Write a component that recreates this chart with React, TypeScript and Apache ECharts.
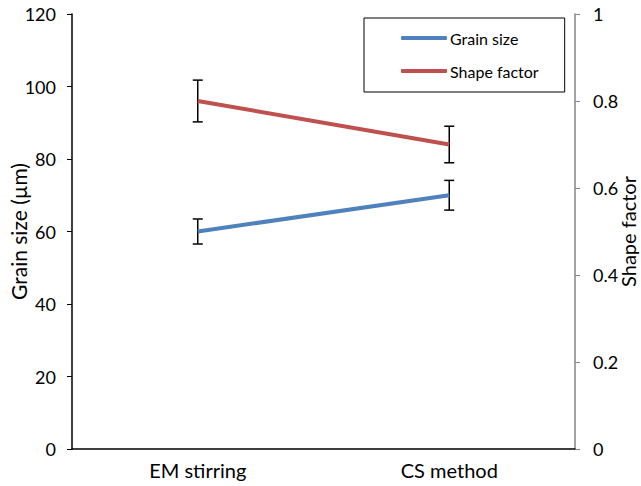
import React, { useEffect, useRef } from "react";
import * as echarts from "echarts";

const categories = ["EM stirring", "CS method"];
const grainSize = [60, 70];
const grainErr = [3.45, 4.1];
const shapeFactor = [0.8, 0.7];
const shapeErr = [0.048, 0.042];

const FONT = "Lato";

function errorSeries(name: string, vals: number[], errs: number[], yAxisIndex: number) {
  return {
    type: "custom",
    name,
    yAxisIndex,
    z: 1,
    silent: true,
    data: vals.map((v, i) => [i, v - errs[i], v + errs[i]]),
    renderItem: (params: any, api: any) => {
      const x = api.value(0);
      const lo = api.coord([x, api.value(1)]);
      const hi = api.coord([x, api.value(2)]);
      const hw = 5;
      const style = { stroke: "#000", lineWidth: 1.5 };
      return {
        type: "group",
        children: [
          { type: "line", shape: { x1: lo[0], y1: lo[1], x2: hi[0], y2: hi[1] }, style },
          { type: "line", shape: { x1: lo[0] - hw, y1: lo[1], x2: lo[0] + hw, y2: lo[1] }, style },
          { type: "line", shape: { x1: hi[0] - hw, y1: hi[1], x2: hi[0] + hw, y2: hi[1] }, style },
        ],
      };
    },
  };
}

export default function App() {
  const ref = useRef<HTMLDivElement>(null);
  useEffect(() => {
    const chart = echarts.init(ref.current!, null, { renderer: "svg" });
    chart.setOption({
      animation: false,
      backgroundColor: "#fff",
      textStyle: { fontFamily: FONT },
      grid: { left: 72, right: 66, top: 14, bottom: 37, containLabel: false, outerBoundsMode: "none" },
      legend: {
        orient: "vertical",
        left: 364,
        top: 18,
        padding: [12, 26, 13, 37],
        borderColor: "#000",
        borderWidth: 1,
        icon: "roundRect",
        itemWidth: 46,
        itemHeight: 4,
        itemGap: 17,
        itemStyle: { borderWidth: 0 },
        data: ["Grain size", "Shape factor"],
        textStyle: { fontFamily: FONT, fontSize: 16, color: "#000", padding: [0, 0, 0, -2] },
      },
      xAxis: {
        type: "category",
        data: categories,
        boundaryGap: true,
        axisLine: { lineStyle: { color: "#000", width: 1.5 } },
        axisTick: { inside: true, length: 5, lineStyle: { color: "#000" } },
        axisLabel: { fontFamily: FONT, fontSize: 20, color: "#000", margin: 11 },
      },
      yAxis: [
        {
          type: "value",
          min: 0,
          max: 120,
          interval: 20,
          name: "Grain size (µm)",
          nameLocation: "middle",
          nameGap: 43,
          nameMoveOverlap: false,
          nameTextStyle: { fontFamily: FONT, fontSize: 21, color: "#000" },
          splitLine: { show: false },
          axisLine: { show: true, lineStyle: { color: "#000", width: 1.5 } },
          axisTick: { show: true, length: 5, lineStyle: { color: "#000" } },
          axisLabel: { fontFamily: FONT, fontSize: 18, color: "#000", margin: 16 },
        },
        {
          type: "value",
          min: 0,
          max: 1,
          interval: 0.2,
          position: "right",
          name: "Shape factor",
          nameLocation: "middle",
          nameGap: 43,
          nameMoveOverlap: false,
          nameTextStyle: { fontFamily: FONT, fontSize: 20, color: "#000" },
          splitLine: { show: false },
          axisLine: { show: true, lineStyle: { color: "#868686", width: 1.5 } },
          axisTick: { show: true, length: 5, lineStyle: { color: "#868686" } },
          axisLabel: { fontFamily: FONT, fontSize: 18, color: "#000", margin: 18 },
        },
      ],
      series: [
        errorSeries("gErr", grainSize, grainErr, 0),
        errorSeries("sErr", shapeFactor, shapeErr, 1),
        {
          type: "line",
          name: "Grain size",
          yAxisIndex: 0,
          data: grainSize,
          symbol: "none",
          z: 3,
          lineStyle: { color: "#4F81BD", width: 4 },
          itemStyle: { color: "#4F81BD" },
        },
        {
          type: "line",
          name: "Shape factor",
          yAxisIndex: 1,
          data: shapeFactor,
          symbol: "none",
          z: 3,
          lineStyle: { color: "#C0504D", width: 4 },
          itemStyle: { color: "#C0504D" },
        },
      ],
    });
    return () => chart.dispose();
  }, []);
  return (
    <div
      ref={ref}
      style={{ position: "absolute", left: 0, top: 0, width: 641, height: 486 }}
    />
  );
}
